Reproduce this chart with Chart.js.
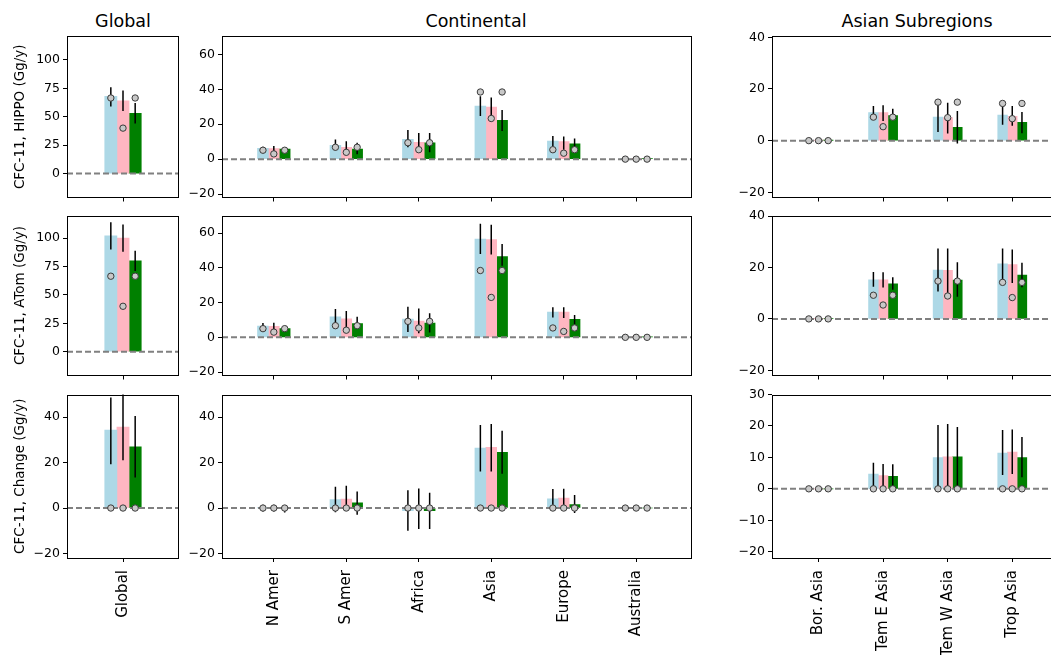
<!DOCTYPE html>
<html>
<head>
<meta charset="utf-8">
<script src="https://cdn.jsdelivr.net/npm/chart.js@4.4.0/dist/chart.umd.min.js"></script>
<style>
  html, body { margin: 0; padding: 0; background: #fff; width: 1051px; height: 655px; overflow: hidden; position: relative; }
  canvas { position: absolute; }
  .col-title { position: absolute; top: 11px; width: 300px; text-align: center; font-family: "DejaVu Sans", sans-serif; font-size: 17.5px; line-height: 21px; color: #000; white-space: nowrap; }
</style>
</head>
<body>
<script>
// Categories
const globalCats = ['Global'];
const contCats = ['N Amer', 'S Amer', 'Africa', 'Asia', 'Europe', 'Australia'];
const asiaCats = ['Bor. Asia', 'Tem E Asia', 'Tem W Asia', 'Trop Asia'];

// Row titles / column titles
const rowTitles = ['CFC-11, HIPPO (Gg/y)', 'CFC-11, ATom (Gg/y)', 'CFC-11, Change (Gg/y)'];
const colTitles = ['Global', 'Continental', 'Asian Subregions'];

// Y tick labels
const ticksGlobalEmis = [0, 25, 50, 75, 100];
const ticksGlobalChange = [-20, 0, 20, 40];
const ticksContEmis = [-20, 0, 20, 40, 60];
const ticksContChange = [-20, 0, 20, 40];
const ticksAsiaEmis = [-20, 0, 20, 40];
const ticksAsiaChange = [-20, -10, 0, 10, 20, 30];

// ---- HIPPO ----
// each: [light blue, pink, green]
const hippoGlobalBars = [[68], [64], [53]];
const hippoGlobalLo = [[59], [55], [44]];
const hippoGlobalHi = [[76], [73], [62]];
const hippoGlobalPts = [[66.5], [40], [66.5]];

const hippoContBars = [
    [6.2, 7.9, 11.3, 30.4, 10.3, 0.2],
    [6.0, 6.8, 9.6, 29.9, 10.0, 0.2],
    [5.8, 5.8, 9.4, 22.3, 8.8, 0.2]
];
const hippoContLo = [
    [5.1, 5.1, 6.8, 24.8, 7.3, 0],
    [3.9, 3.0, 3.9, 22.9, 5.4, 0],
    [5.2, 2.8, 3.9, 16.2, 6.2, 0]
];
const hippoContHi = [
    [7.1, 11.3, 16.7, 36.0, 13.3, 0.3],
    [7.5, 10.3, 15.0, 35.3, 13.0, 0.3],
    [6.4, 9.4, 15.0, 28.2, 11.8, 0.3]
];
const hippoContPts = [
    [5.1, 6.8, 9.4, 38.5, 5.4, 0],
    [3.0, 3.9, 5.4, 23.3, 3.4, 0],
    [5.1, 6.8, 9.4, 38.5, 5.4, 0]
];

const hippoAsiaBars = [
    [0.1, 10.9, 9.1, 9.9],
    [0.1, 10.9, 8.9, 9.4],
    [0.1, 9.7, 5.2, 7.1]
];
const hippoAsiaLo = [
    [0, 9.4, 3.3, 6.2],
    [0, 7.6, 2.8, 5.8],
    [0, 8.4, -1.1, 2.9]
];
const hippoAsiaHi = [
    [0.2, 13.4, 14.4, 14.2],
    [0.2, 13.7, 14.7, 13.4],
    [0.2, 12.3, 11.5, 11.1]
];
const hippoAsiaPts = [
    [0, 9.1, 14.9, 14.4],
    [0, 5.4, 8.9, 8.5],
    [0, 9.1, 14.9, 14.4]
];

// ---- ATom ----
const atomGlobalBars = [[102], [100], [80]];
const atomGlobalLo = [[90], [88], [71]];
const atomGlobalHi = [[114], [112], [89]];
const atomGlobalPts = [[66.5], [40], [66.5]];

const atomContBars = [
    [6.5, 11.8, 10.5, 56.6, 14.6, 0.5],
    [6.4, 10.7, 9.3, 56.3, 14.6, 0.4],
    [5.0, 7.9, 8.2, 46.5, 10.3, 0.3]
];
const atomContLo = [
    [4.9, 6.7, 3.0, 48.0, 11.4, 0.2],
    [1.9, 3.7, 2.4, 47.7, 11.2, 0.1],
    [3.4, 5.0, 2.8, 41.3, 7.5, 0.1]
];
const atomContHi = [
    [8.2, 16.3, 17.6, 65.4, 17.4, 0.8],
    [8.4, 15.1, 16.6, 64.9, 17.4, 0.7],
    [6.4, 11.8, 13.8, 53.8, 12.9, 0.5]
];
const atomContPts = [
    [5.0, 6.7, 9.2, 38.5, 5.4, 0],
    [3.0, 4.1, 5.4, 23.0, 3.4, 0],
    [5.0, 6.7, 9.2, 38.5, 5.4, 0]
];

const atomAsiaBars = [
    [0.2, 15.2, 19.0, 21.4],
    [0.1, 15.2, 18.9, 21.1],
    [0.2, 13.6, 15.1, 17.0]
];
const atomAsiaLo = [
    [0, 12.5, 10.7, 14.2],
    [0, 12.2, 8.9, 14.0],
    [0, 11.3, 8.6, 12.3]
];
const atomAsiaHi = [
    [0.4, 18.2, 27.4, 27.4],
    [0.3, 18.1, 27.4, 27.0],
    [0.4, 16.2, 22.0, 21.8]
];
const atomAsiaPts = [
    [0, 9.2, 14.7, 14.2],
    [0, 5.4, 8.9, 8.3],
    [0, 9.2, 14.7, 14.2]
];

// ---- Change ----
const chgGlobalBars = [[34.3], [35.7], [27]];
const chgGlobalLo = [[19.3], [21], [13.5]];
const chgGlobalHi = [[48.7], [52], [40.5]];
const chgGlobalPts = [[0], [0], [0]];

const chgContBars = [
    [0.1, 3.7, -1.2, 26.4, 4.1, 0],
    [0.1, 4.0, -0.3, 26.7, 4.4, 0],
    [-0.2, 2.3, -1.2, 24.5, 1.5, 0]
];
const chgContLo = [
    [-1.5, -1.9, -10.0, 16.1, 0, 0],
    [-1.5, -0.3, -9.2, 16.1, -0.3, 0],
    [-2.0, -2.9, -9.2, 15.1, -2.2, 0]
];
const chgContHi = [
    [1.5, 9.4, 7.8, 36.6, 8.4, 0],
    [1.5, 9.8, 8.6, 37.0, 8.5, 0],
    [1.0, 7.3, 6.7, 34.0, 5.7, 0]
];
const chgContPts = [
    [0, 0, 0, 0, 0, 0],
    [0, 0, 0, 0, 0, 0],
    [0, 0, 0, 0, 0, 0]
];

const chgAsiaBars = [
    [0, 4.7, 9.9, 11.4],
    [0, 4.2, 10.2, 11.7],
    [0, 4.0, 10.2, 9.9]
];
const chgAsiaLo = [
    [0, 0.2, 0, 4.4],
    [0, 0.1, 0, 4.7],
    [0, 0.2, 0, 3.7]
];
const chgAsiaHi = [
    [0, 8.3, 20.3, 18.7],
    [0, 7.9, 20.6, 18.9],
    [0, 7.8, 19.7, 16.5]
];
const chgAsiaPts = [
    [0, 0, 0, 0],
    [0, 0, 0, 0],
    [0, 0, 0, 0]
];

// Estilos
const seriesColors = ['#add8e6', '#ffb6c1', '#008000'];
const seriesOffsets = [-0.15, 0, 0.15];
Chart.defaults.font.family = '"DejaVu Sans", sans-serif';
Chart.defaults.color = '#000';

// Layout das colunas e linhas (pixels)
const cols = [
    { left: 0, width: 190, yAxisW: 67, padRight: 11, xMin: -0.69, xMax: 0.69, titleX: 123 },
    { left: 188, width: 512, yAxisW: 34, padRight: 8, xMin: -0.715, xMax: 5.77, titleX: 476 },
    { left: 735, width: 335, yAxisW: 37, padRight: 8, xMin: -0.72, xMax: 3.77, titleX: 917 }
];
const rows = [
    { top: 0, height: 208, padTop: 36, xAxisH: 8 },
    { top: 205, height: 181, padTop: 10, xAxisH: 8 },
    { top: 384, height: 274, padTop: 10, xAxisH: 100 }
];

const framePlugin = {
    id: 'frame',
    afterDatasetsDraw(chart) {
        const { ctx, chartArea: a } = chart;
        ctx.save();
        ctx.strokeStyle = '#000';
        ctx.lineWidth = 1;
        ctx.strokeRect(Math.round(a.left) + 0.5, Math.round(a.top) + 0.5,
            Math.round(a.right - a.left) - 1, Math.round(a.bottom - a.top) - 1);
        ctx.restore();
    }
};

function fmtTick(v) {
    return v < 0 ? '\u2212' + Math.abs(v) : String(v);
}

// Títulos das colunas
colTitles.forEach((t, c) => {
    const div = document.createElement('div');
    div.className = 'col-title';
    div.textContent = t;
    div.style.left = (cols[c].titleX - 150) + 'px';
    document.body.appendChild(div);
});

function makePanel(r, c, cats, bars, lo, hi, pts, yMin, yMax, yTicks) {
    const col = cols[c];
    const row = rows[r];
    const canvas = document.createElement('canvas');
    canvas.width = col.width;
    canvas.height = row.height;
    canvas.style.left = col.left + 'px';
    canvas.style.top = row.top + 'px';
    canvas.style.width = col.width + 'px';
    canvas.style.height = row.height + 'px';
    document.body.appendChild(canvas);

    const datasets = [];
    bars.forEach((vals, s) => {
        datasets.push({
            type: 'bar',
            data: vals.map((v, i) => ({ x: i + seriesOffsets[s], y: v })),
            backgroundColor: seriesColors[s],
            borderWidth: 0,
            grouped: false,
            barPercentage: 1,
            categoryPercentage: 1,
            order: 4
        });
    });

    // linha tracejada no zero
    datasets.push({
        type: 'line',
        data: [{ x: col.xMin, y: 0 }, { x: col.xMax, y: 0 }],
        borderColor: '#808080',
        borderWidth: 2,
        borderDash: [6, 3],
        pointRadius: 0,
        order: 3
    });

    // barras de erro
    const errData = [];
    lo.forEach((vals, s) => {
        vals.forEach((l, i) => {
            const x = i + seriesOffsets[s];
            errData.push({ x, y: l }, { x, y: hi[s][i] }, { x, y: null });
        });
    });
    datasets.push({
        type: 'line',
        data: errData,
        borderColor: '#000',
        borderWidth: 1.5,
        pointRadius: 0,
        spanGaps: false,
        order: 2
    });

    // pontos
    const ptData = [];
    pts.forEach((vals, s) => {
        vals.forEach((v, i) => ptData.push({ x: i + seriesOffsets[s], y: v }));
    });
    datasets.push({
        type: 'scatter',
        data: ptData,
        pointRadius: 3.2,
        pointBackgroundColor: '#c8c8c8',
        pointBorderColor: '#3a3a3a',
        pointBorderWidth: 1,
        order: 1
    });

    const showX = r === rows.length - 1;
    new Chart(canvas, {
        type: 'bar',
        data: { datasets },
        plugins: [framePlugin],
        options: {
            responsive: false,
            devicePixelRatio: 1,
            animation: false,
            layout: { padding: { top: row.padTop, right: col.padRight, left: 0, bottom: 0 } },
            plugins: {
                legend: { display: false },
                tooltip: { enabled: false }
            },
            scales: {
                x: {
                    type: 'linear',
                    min: col.xMin,
                    max: col.xMax,
                    offset: false,
                    afterBuildTicks: s => { s.ticks = cats.map((cat, i) => ({ value: i })); },
                    afterFit: s => { s.height = row.xAxisH; },
                    ticks: {
                        display: showX,
                        autoSkip: false,
                        maxRotation: 90,
                        minRotation: 90,
                        padding: 8,
                        font: { size: 15 },
                        color: '#000',
                        callback: (v, i) => cats[i]
                    },
                    grid: { offset: false, drawOnChartArea: false, drawTicks: true, tickLength: 4, color: '#000' },
                    border: { display: false }
                },
                y: {
                    min: yMin,
                    max: yMax,
                    afterBuildTicks: s => { s.ticks = yTicks.map(v => ({ value: v })); },
                    afterFit: s => { s.width = col.yAxisW; },
                    ticks: { padding: 3, font: { size: 12.5 }, color: '#000', callback: v => fmtTick(v) },
                    grid: { drawOnChartArea: false, drawTicks: true, tickLength: 4, color: '#000' },
                    border: { display: false },
                    title: {
                        display: c === 0,
                        text: rowTitles[r],
                        font: { size: 13.5 },
                        color: '#000',
                        padding: { top: 12, bottom: 0 }
                    }
                }
            }
        }
    });
}

makePanel(0, 0, globalCats, hippoGlobalBars, hippoGlobalLo, hippoGlobalHi, hippoGlobalPts, -21, 121, ticksGlobalEmis);
makePanel(0, 1, contCats, hippoContBars, hippoContLo, hippoContHi, hippoContPts, -22, 70.6, ticksContEmis);
makePanel(0, 2, asiaCats, hippoAsiaBars, hippoAsiaLo, hippoAsiaHi, hippoAsiaPts, -22, 40.5, ticksAsiaEmis);

makePanel(1, 0, globalCats, atomGlobalBars, atomGlobalLo, atomGlobalHi, atomGlobalPts, -21, 120, ticksGlobalEmis);
makePanel(1, 1, contCats, atomContBars, atomContLo, atomContHi, atomContPts, -22, 70.2, ticksContEmis);
makePanel(1, 2, asiaCats, atomAsiaBars, atomAsiaLo, atomAsiaHi, atomAsiaPts, -22, 40.2, ticksAsiaEmis);

makePanel(2, 0, globalCats, chgGlobalBars, chgGlobalLo, chgGlobalHi, chgGlobalPts, -22, 50, ticksGlobalChange);
makePanel(2, 1, contCats, chgContBars, chgContLo, chgContHi, chgContPts, -22, 50, ticksContChange);
makePanel(2, 2, asiaCats, chgAsiaBars, chgAsiaLo, chgAsiaHi, chgAsiaPts, -22, 30, ticksAsiaChange);
</script>
</body>
</html>
